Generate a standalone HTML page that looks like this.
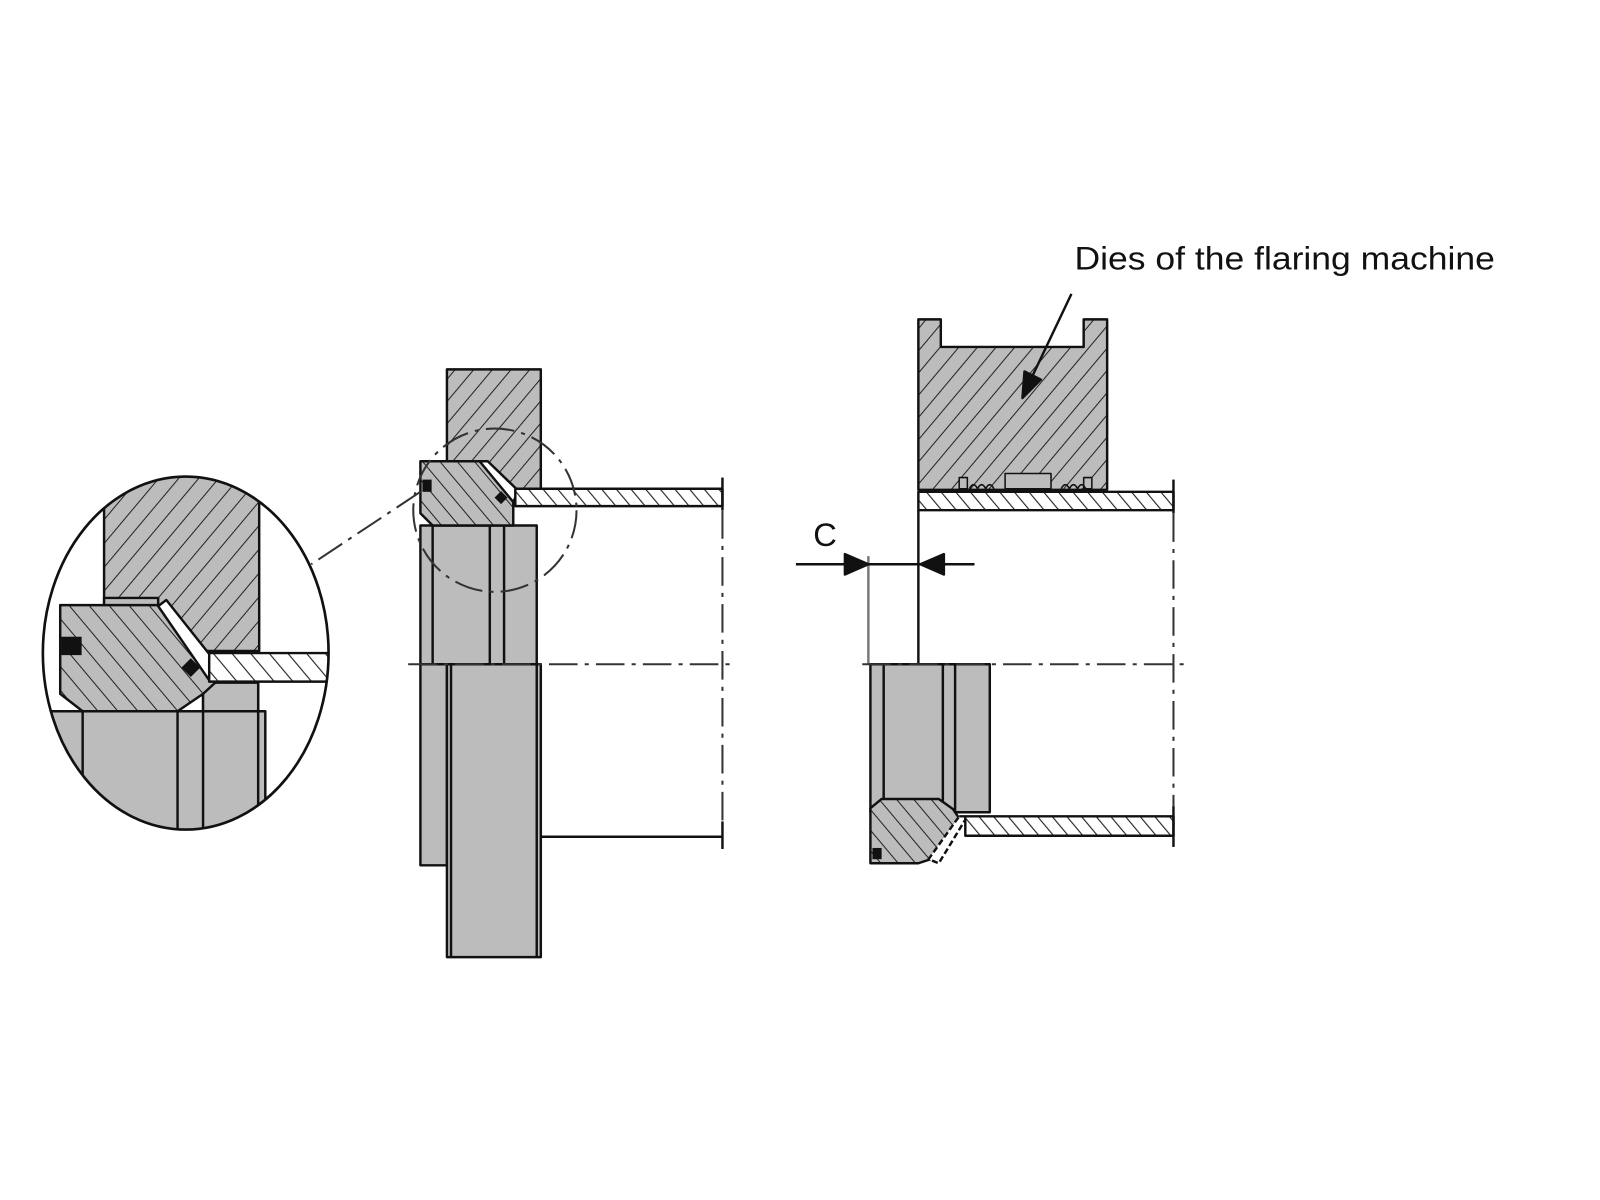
<!DOCTYPE html>
<html><head><meta charset="utf-8"><style>
html,body{margin:0;padding:0;background:#fff;}
svg{display:block;}
</style></head><body>
<svg width="1600" height="1200" viewBox="0 0 1568 1176" xmlns="http://www.w3.org/2000/svg">
<defs>
<pattern id="hf" patternUnits="userSpaceOnUse" width="14" height="14" patternTransform="rotate(40)">
<rect width="14" height="14" fill="#bcbcbc"/><line x1="0" y1="0" x2="0" y2="14" stroke="#222" stroke-width="2"/></pattern>
<pattern id="hb" patternUnits="userSpaceOnUse" width="13" height="13" patternTransform="rotate(-40)">
<rect width="13" height="13" fill="#bcbcbc"/><line x1="0" y1="0" x2="0" y2="13" stroke="#222" stroke-width="2"/></pattern>
<pattern id="ht" patternUnits="userSpaceOnUse" width="11" height="11" patternTransform="rotate(-40)">
<rect width="11" height="11" fill="#fff"/><line x1="0" y1="0" x2="0" y2="11" stroke="#222" stroke-width="2.2"/></pattern>
<pattern id="hfL" patternUnits="userSpaceOnUse" width="15" height="15" patternTransform="rotate(40)">
<rect width="15" height="15" fill="#bcbcbc"/><line x1="0" y1="0" x2="0" y2="15" stroke="#222" stroke-width="2"/></pattern>
<pattern id="hbL" patternUnits="userSpaceOnUse" width="15" height="15" patternTransform="rotate(-40)">
<rect width="15" height="15" fill="#bcbcbc"/><line x1="0" y1="0" x2="0" y2="15" stroke="#222" stroke-width="2"/></pattern>
<pattern id="htL" patternUnits="userSpaceOnUse" width="14" height="14" patternTransform="rotate(-40)">
<rect width="14" height="14" fill="#fff"/><line x1="0" y1="0" x2="0" y2="14" stroke="#222" stroke-width="2.2"/></pattern>
<clipPath id="ec"><ellipse cx="182" cy="640" rx="140" ry="173"/></clipPath>
</defs>
<g stroke="#111" stroke-width="2.4" stroke-linejoin="round">

<!-- ===== Left assembly ===== -->
<rect x="438" y="362" width="92" height="120" fill="url(#hf)"/>
<rect x="412" y="515" width="114" height="136" fill="#bcbcbc"/>
<line x1="424" y1="515" x2="424" y2="651"/>
<line x1="480" y1="515" x2="480" y2="651"/>
<line x1="494" y1="515" x2="494" y2="651"/>
<polygon points="412,452 470,452 503,490 503,515 424,515 412,503" fill="url(#hb)"/>
<polygon points="470,452 478,452 508,481 503,492" fill="#fff"/>
<rect x="414" y="470" width="9" height="12" fill="#111" stroke="none"/>
<rect x="487" y="483" width="9" height="9" fill="#111" stroke="none" transform="rotate(45 491 487)"/>
<rect x="505" y="479" width="203" height="17" fill="url(#ht)"/>
<rect x="412" y="651" width="26" height="197" fill="#bcbcbc"/>
<rect x="438" y="651" width="92" height="287" fill="#bcbcbc"/>
<line x1="442" y1="651" x2="442" y2="938"/>
<line x1="526" y1="651" x2="526" y2="938"/>
<line x1="530" y1="820" x2="708" y2="820"/>
<line x1="708" y1="468" x2="708" y2="500"/>
<line x1="708" y1="805" x2="708" y2="832"/>
</g>
<g stroke="#333" stroke-width="2" fill="none" stroke-dasharray="28,7,4,7">
<line x1="400" y1="651" x2="720" y2="651"/>
<line x1="708" y1="500" x2="708" y2="805"/>
<circle cx="485" cy="500" r="80"/>
<line x1="412" y1="482" x2="305" y2="553"/>
</g>

<!-- ===== Zoom detail ===== -->
<g clip-path="url(#ec)" stroke="#111" stroke-width="2.4" stroke-linejoin="round">
<rect x="102" y="450" width="152" height="188" fill="url(#hfL)"/>
<rect x="102" y="586" width="53" height="10" fill="#bcbcbc"/>
<rect x="30" y="697" width="230" height="140" fill="#bcbcbc"/>
<line x1="81" y1="697" x2="81" y2="840"/>
<line x1="174" y1="697" x2="174" y2="840"/>
<line x1="199" y1="680" x2="199" y2="840"/>
<line x1="253" y1="669" x2="253" y2="840"/>
<rect x="199" y="669" width="54" height="28" fill="#bcbcbc"/>
<polygon points="59,593 155,593 212,668 199,680 174,697 81,697 59,680" fill="url(#hbL)"/>
<polygon points="155,594 163,588 217,656 206,668" fill="#fff"/>
<rect x="205" y="640" width="125" height="28" fill="url(#htL)"/>
<rect x="60" y="624" width="20" height="18" fill="#111" stroke="none"/>
<rect x="180" y="648" width="13" height="13" fill="#111" stroke="none" transform="rotate(45 187 655)"/>
</g>
<ellipse cx="182" cy="640" rx="140" ry="173" fill="none" stroke="#111" stroke-width="2.6"/>

<!-- ===== Right assembly ===== -->
<g stroke="#111" stroke-width="2.4" stroke-linejoin="round">
<polygon points="900,313 922,313 922,340 1062,340 1062,313 1085,313 1085,480 900,480" fill="url(#hf)"/>
<rect x="985" y="464" width="45" height="15" fill="#bcbcbc" stroke-width="1.5"/>
<rect x="940" y="468" width="8" height="11" fill="#bcbcbc" stroke-width="1.5"/>
<rect x="1062" y="468" width="8" height="11" fill="#bcbcbc" stroke-width="1.5"/>
<path d="M950,479 q4,-8 8,0 q4,-8 8,0 q4,-8 8,0 M1040,479 q4,-8 8,0 q4,-8 8,0 q4,-8 8,0" fill="none" stroke-width="1.5"/>
<rect x="900" y="482" width="250" height="18" fill="url(#ht)"/>
<line x1="1150" y1="470" x2="1150" y2="503"/>
<line x1="900" y1="500" x2="900" y2="651"/>
<line x1="851" y1="545" x2="851" y2="651" stroke="#777"/>
<line x1="780" y1="553" x2="955" y2="553"/>
<polygon points="828,543 851,553 828,563" fill="#111"/>
<polygon points="925,543 902,553 925,563" fill="#111"/>
<rect x="853" y="651" width="117" height="145" fill="#bcbcbc"/>
<line x1="866" y1="651" x2="866" y2="785"/>
<line x1="924" y1="651" x2="924" y2="785"/>
<line x1="936" y1="651" x2="936" y2="798"/>
<polygon points="853,792 864,783 920,783 934,793 940,802 912,842 900,846 853,846" fill="url(#hb)"/>
<polygon points="940,800 948,800 920,846 910,842" fill="#fff" stroke-dasharray="6,3"/>
<rect x="855" y="831" width="9" height="11" fill="#111" stroke="none"/>
<rect x="946" y="800" width="204" height="19" fill="url(#ht)"/>
<line x1="1150" y1="790" x2="1150" y2="830"/>
<line x1="1050" y1="288" x2="1012" y2="368"/>
<polygon points="1002,390 1004,364 1020,372" fill="#111"/>
</g>
<g stroke="#333" stroke-width="2" fill="none" stroke-dasharray="28,7,4,7">
<line x1="845" y1="651" x2="1162" y2="651"/>
<line x1="1150" y1="503" x2="1150" y2="790"/>
</g>
<text x="797" y="535" font-family="Liberation Sans, sans-serif" font-size="32" fill="#111">C</text>
<text x="1053" y="264" font-family="Liberation Sans, sans-serif" font-size="32" fill="#111" textLength="412" lengthAdjust="spacingAndGlyphs">Dies of the flaring machine</text>
</svg>
</body></html>
